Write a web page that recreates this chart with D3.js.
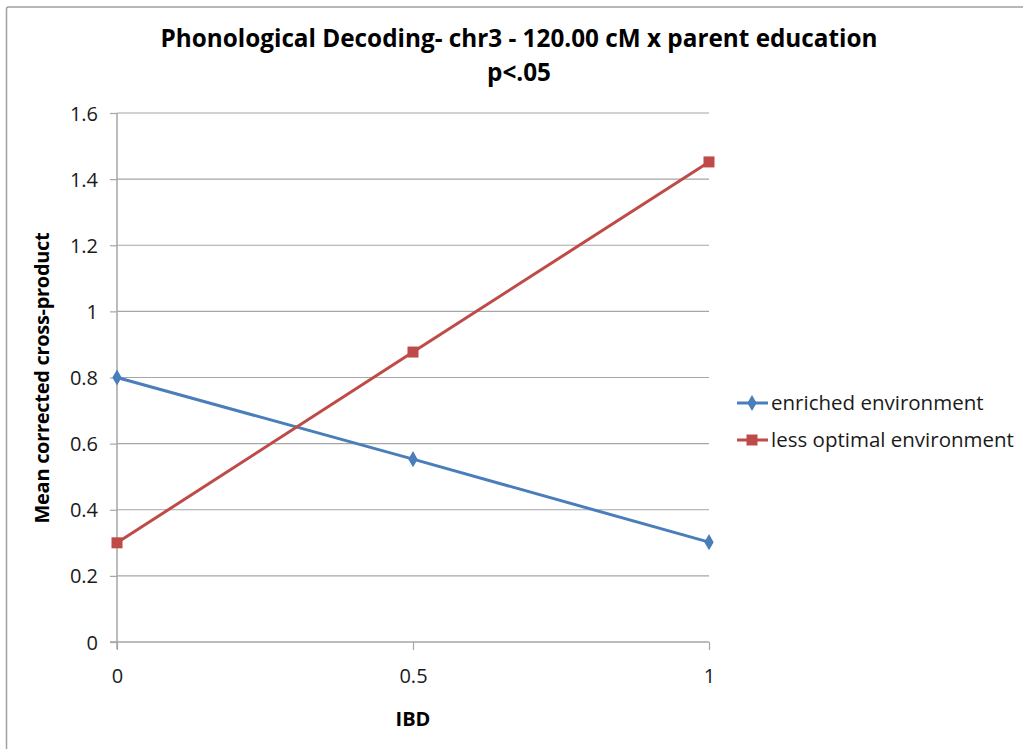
<!DOCTYPE html>
<html>
<head>
<meta charset="utf-8">
<script src="https://cdn.jsdelivr.net/npm/d3@7"></script>
<style>
  html, body { margin: 0; padding: 0; background: #fff; }
  svg { display: block; }
  text { font-family: "Open Sans", "Noto Sans", sans-serif; }
</style>
</head>
<body>
<svg id="chart" width="1023" height="749"></svg>
<script>
// IBD sharing categories on the x axis
const ibd = [0, 0.5, 1];
// Mean corrected cross-product per environment group
const enriched = [0.80, 0.553, 0.302];
const lessOptimal = [0.30, 0.877, 1.452];
const seriesNames = ["enriched environment", "less optimal environment"];
const seriesColors = ["#4a7ebb", "#be4b48"];
const yTicks = [0, 0.2, 0.4, 0.6, 0.8, 1, 1.2, 1.4, 1.6];
const xTicks = [0, 0.5, 1];

const svg = d3.select("#chart");
const x = d3.scaleLinear().domain([0, 1]).range([117, 709]);
const y = d3.scaleLinear().domain([0, 1.6]).range([642, 113]);

// chart frame
svg.append("rect").attr("x", 6.5).attr("y", 7).attr("width", 1040).attr("height", 770)
  .attr("rx", 2).attr("fill", "none").attr("stroke", "#a0a0a0").attr("stroke-width", 1.5);

// horizontal gridlines
svg.append("g").selectAll("line").data(yTicks.filter(d => d > 0)).join("line")
  .attr("x1", x(0)).attr("x2", x(1))
  .attr("y1", d => y(d)).attr("y2", d => y(d))
  .attr("stroke", "#a6a6a6").attr("stroke-width", 1.2);

// y axis
const yAxis = svg.append("g").attr("transform", `translate(${x(0)},0)`)
  .call(d3.axisLeft(y).tickValues(yTicks).tickSize(7).tickPadding(12)
    .tickFormat(d => d3.format("")(+d.toFixed(1))));
yAxis.select(".domain").attr("stroke", "#a6a6a6").attr("stroke-width", 1.5)
  .attr("d", `M0,${y(0) + 7}V${y(1.6)}`);
yAxis.selectAll(".tick line").attr("stroke", "#a6a6a6").attr("stroke-width", 1.2);
yAxis.selectAll(".tick text").attr("font-size", 20).attr("fill", "#1a1a1a")
  .attr("font-family", "'Open Sans', sans-serif").attr("dy", "0.35em");

// x axis
const xAxis = svg.append("g").attr("transform", `translate(0,${y(0)})`)
  .call(d3.axisBottom(x).tickValues(xTicks).tickSize(8).tickPadding(19)
    .tickFormat(d3.format("")));
xAxis.select(".domain").attr("stroke", "#a6a6a6").attr("stroke-width", 1.5)
  .attr("d", `M${x(0) - 7},0H${x(1)}`);
xAxis.selectAll(".tick line").attr("stroke", "#a6a6a6").attr("stroke-width", 1.2);
xAxis.selectAll(".tick text").attr("font-size", 20).attr("fill", "#1a1a1a")
  .attr("font-family", "'Open Sans', sans-serif");

// series lines and markers
const data = [enriched, lessOptimal];
const line = d3.line().x((d, i) => x(ibd[i])).y(d => y(d));
const diamond = d3.symbol().type(d3.symbolDiamond).size(75);
data.forEach((vals, s) => {
  svg.append("path").datum(vals).attr("d", line)
    .attr("fill", "none").attr("stroke", seriesColors[s]).attr("stroke-width", 3);
  const g = svg.append("g");
  vals.forEach((v, i) => {
    if (s === 0) {
      g.append("path").attr("d", diamond)
        .attr("transform", `translate(${x(ibd[i])},${y(v)})`)
        .attr("fill", seriesColors[s]);
    } else {
      g.append("rect").attr("x", x(ibd[i]) - 5.5).attr("y", y(v) - 5.5)
        .attr("width", 11).attr("height", 11).attr("fill", seriesColors[s]);
    }
  });
});

// legend
const legend = svg.append("g");
seriesNames.forEach((name, s) => {
  const ly = 403 + s * 37;
  legend.append("line").attr("x1", 737).attr("x2", 768).attr("y1", ly).attr("y2", ly)
    .attr("stroke", seriesColors[s]).attr("stroke-width", 3);
  if (s === 0) {
    legend.append("path").attr("d", diamond).attr("transform", `translate(752,${ly})`)
      .attr("fill", seriesColors[s]);
  } else {
    legend.append("rect").attr("x", 746.5).attr("y", ly - 5.5).attr("width", 11).attr("height", 11)
      .attr("fill", seriesColors[s]);
  }
  legend.append("text").attr("x", 771).attr("y", ly).attr("dy", "0.35em")
    .attr("font-size", 20.5).attr("fill", "#1a1a1a").text(name);
});

// title
svg.append("text").attr("x", 519).attr("y", 47).attr("text-anchor", "middle")
  .attr("font-size", 24.3).attr("font-weight", "bold").attr("fill", "#000")
  .text("Phonological Decoding- chr3 - 120.00 cM x parent education");
svg.append("text").attr("x", 519).attr("y", 81).attr("text-anchor", "middle")
  .attr("font-size", 24.3).attr("font-weight", "bold").attr("fill", "#000")
  .text("p<.05");

// axis titles
svg.append("text").attr("x", 413).attr("y", 726).attr("text-anchor", "middle")
  .attr("font-size", 20).attr("font-weight", "bold").attr("fill", "#000").text("IBD");
svg.append("text").attr("transform", "translate(49,378) rotate(-90)")
  .attr("text-anchor", "middle").attr("font-size", 20).attr("font-weight", "bold")
  .attr("fill", "#000").attr("letter-spacing", -0.3).text("Mean corrected cross-product");
</script>
</body>
</html>
